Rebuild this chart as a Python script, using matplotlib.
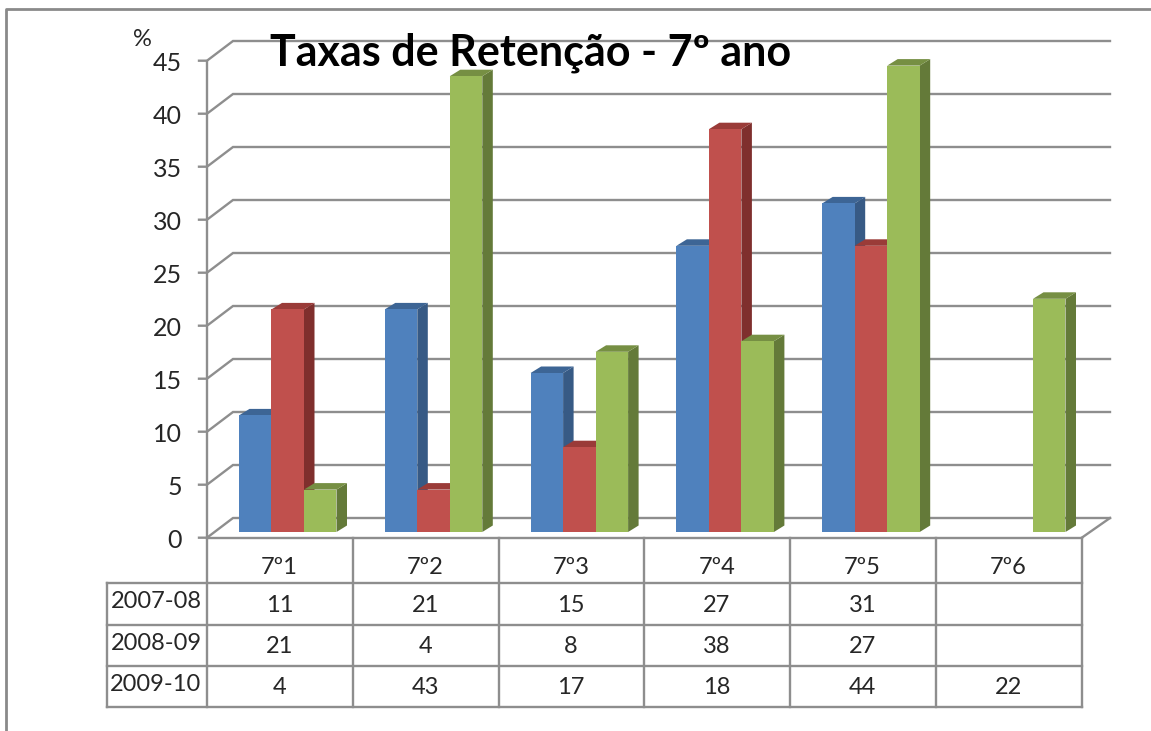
import matplotlib
matplotlib.use("Agg")
import matplotlib.pyplot as plt
from matplotlib.patches import Polygon

# ---- data ----
categories = ["7º1", "7º2", "7º3", "7º4", "7º5", "7º6"]
series_names = ["2007-08", "2008-09", "2009-10"]
values_2007 = [11, 21, 15, 27, 31, None]
values_2008 = [21, 4, 8, 38, 27, None]
values_2009 = [4, 43, 17, 18, 44, 22]
y_ticks = [0, 5, 10, 15, 20, 25, 30, 35, 40, 45]
title_text = "Taxas de Retenção - 7º ano"
unit_text = "%"

# ---- style / geometry (pixels) ----
W, H = 1151, 731
X0, Y0 = 207.0, 537.7
CAT_PX, UNIT_PX = 145.8, 10.6
BAR_BASE_PX = 5.7
BAR_W_PX = 32.5
BAR_START_PX = 32.0
DEPTH_X, DEPTH_Y = 10.5, 6.5
WALL_X, WALL_Y = 26.0, 19.7
WALL_END = 1110.0
GRID = "#8e8e8e"
TXT = "#262626"
FACE = ["#4f81bd", "#c0504d", "#9bbb59"]
SIDE = ["#375a85", "#7f2f2d", "#647a39"]
TOP = ["#3d6595", "#9a3b38", "#768f43"]
FONT = "Lato"

fig = plt.figure(figsize=(W / 100, H / 100), dpi=100, facecolor="white")
ax = fig.add_axes([0, 0, 1, 1])
ax.set_xlim(-X0 / CAT_PX, (W - X0) / CAT_PX)
ax.set_ylim((Y0 - H) / UNIT_PX, Y0 / UNIT_PX)
ax.axis("off")
px = fig.add_axes([0, 0, 1, 1], facecolor="none")
px.set_xlim(0, W)
px.set_ylim(H, 0)
px.axis("off")

dx = lambda p: p / CAT_PX
dy = lambda p: p / UNIT_PX
n = len(categories)
lw = 1.7

# gridlines, wall edge and ticks
ax.plot([0, 0], [0, y_ticks[-1]], color=GRID, lw=lw, zorder=1)
for t in y_ticks:
    xs = [dx(-8), 0, dx(WALL_X), dx(WALL_END - X0)]
    ys = [t, t, t + dy(WALL_Y), t + dy(WALL_Y)]
    ax.plot(xs, ys, color=GRID, lw=lw, zorder=1, solid_joinstyle="miter")
    ax.text(dx(-25), t - dy(2.5), str(t), ha="right", va="center", fontsize=18,
            family=FONT, color=TXT, zorder=6)
ax.plot([dx(WALL_END - X0), n * 1.0], [dy(WALL_Y), 0], color=GRID, lw=lw, zorder=1)
ax.plot([0, n], [0, 0], color=GRID, lw=lw, zorder=1)

# bars
bar_w = dx(BAR_W_PX)
base = dy(BAR_BASE_PX)
all_series = [values_2007, values_2008, values_2009]
z = 2
for c in range(n):
    for s, vals in enumerate(all_series):
        v = vals[c]
        if v is None:
            continue
        left = c + dx(BAR_START_PX) + s * bar_w
        right = left + bar_w
        top = base + v
        ddx, ddy = dx(DEPTH_X), dy(DEPTH_Y)
        ax.add_patch(Polygon([(right, base), (right + ddx, base + ddy),
                              (right + ddx, top + ddy), (right, top)],
                             facecolor=SIDE[s], edgecolor="none", zorder=z))
        ax.add_patch(Polygon([(left, top), (left + ddx, top + ddy),
                              (right + ddx, top + ddy), (right, top)],
                             facecolor=TOP[s], edgecolor="none", zorder=z))
        ax.bar(left, v, width=bar_w, bottom=base, align="edge",
               color=FACE[s], linewidth=0, zorder=z + 0.5)
        z += 1

# outer border of the picture
px.plot([6, 6, W], [H, 9, 9], color="#8a8a8a", lw=2, clip_on=False)

# data table
col_x = [X0 + i * CAT_PX for i in range(n + 1)]
row_y = [583, 624.5, 665.5, 707]
for x in col_x:
    px.plot([x, x], [Y0, row_y[-1]], color=GRID, lw=lw)
for y in row_y:
    px.plot([107, col_x[-1]], [y, y], color=GRID, lw=lw)
px.plot([107, 107], [row_y[0], row_y[-1]], color=GRID, lw=lw, solid_capstyle="projecting")

for i, cat in enumerate(categories):
    cx = X0 + (i + 0.5) * CAT_PX - 0.5
    px.text(cx, 567, cat, ha="center", va="center", fontsize=17, family=FONT, color=TXT)
    for r, vals in enumerate(all_series):
        if vals[i] is not None:
            px.text(cx, (row_y[r] + row_y[r + 1]) / 2 + 1.5, str(vals[i]), ha="center",
                    va="center", fontsize=17, family=FONT, color=TXT)
for r, name in enumerate(series_names):
    px.text(156, (row_y[r] + row_y[r + 1]) / 2 - 2, name, ha="center", va="center",
            fontsize=17, family=FONT, color=TXT)

px.text(142, 40, unit_text, ha="center", va="center", fontsize=17, family=FONT, color=TXT)
px.text(531, 53, title_text, ha="center", va="center", fontsize=31, family=FONT,
        fontweight="bold", color="black")

fig.savefig("out.png", dpi=100)
